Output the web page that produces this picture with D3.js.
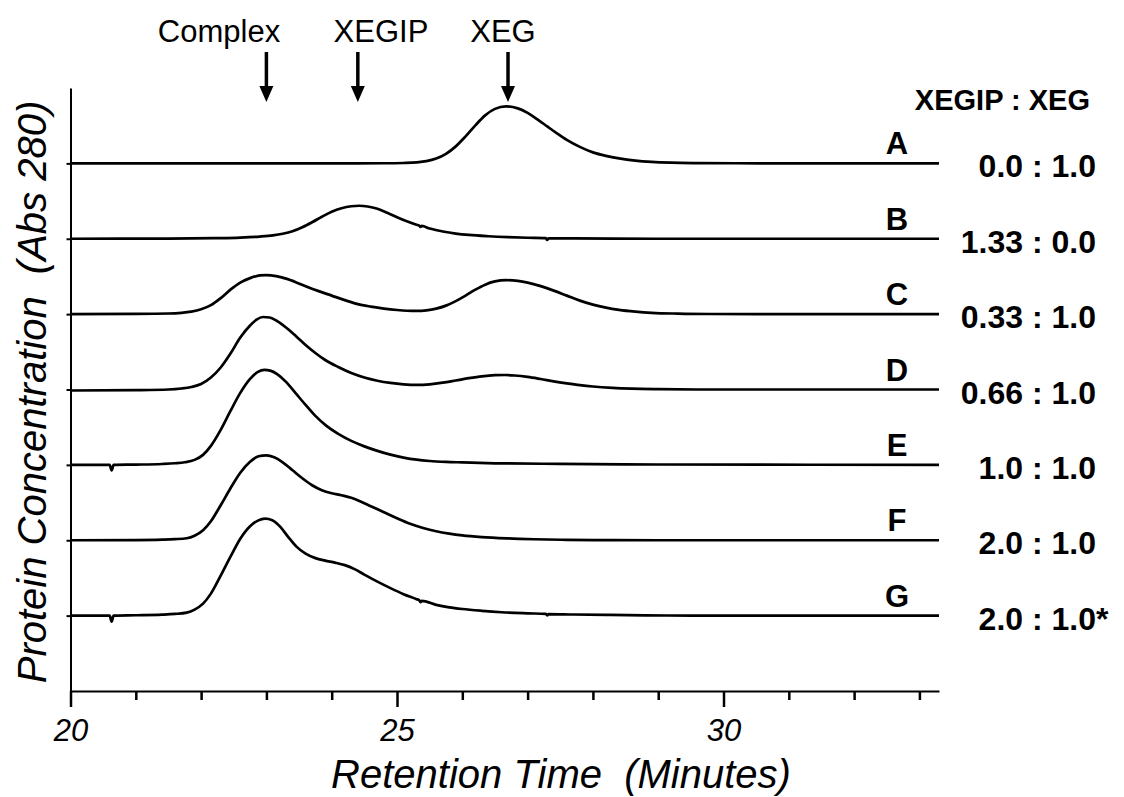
<!DOCTYPE html>
<html>
<head>
<meta charset="utf-8">
<script src="https://cdn.jsdelivr.net/npm/d3@7/dist/d3.min.js"></script>
<style>
  html, body { margin: 0; padding: 0; background: #fff; }
  svg { display: block; font-family: "Liberation Sans", Arial, Helvetica, sans-serif; }
  .title { white-space: pre; }
</style>
</head>
<body>
<svg id="chart" width="1124" height="797"></svg>
<script>
// Gel-filtration elution profiles, A280 signal (arbitrary units) vs retention time (min)
const traceIds = ["A", "B", "C", "D", "E", "F", "G"];
const ratioLabels = ["0.0 : 1.0", "1.33 : 0.0", "0.33 : 1.0", "0.66 : 1.0", "1.0 : 1.0", "2.0 : 1.0", "2.0 : 1.0"];
const ratioNotes = ["", "", "", "", "", "", "*"];
const ratioHeader = "XEGIP : XEG";

const peakNames = ["Complex", "XEGIP", "XEG"];
const peakTimes = [23.0, 24.4, 26.7];

const xMajorTicks = [20, 25, 30];
const xMinorTicks = [21, 22, 23, 24, 26, 27, 28, 29, 31, 32, 33];

// [retention time, signal above the trace's own baseline]
const traceA = [[20,0],[24,0],[24.8,0.1],[25.1,0.4],[25.3,1.0],[25.45,2.2],[25.6,4.8],[25.75,9.5],[25.9,17],[26.05,27],[26.2,38],[26.35,48],[26.5,54.5],[26.67,57],[26.85,55],[27.0,50.5],[27.15,44],[27.3,37],[27.45,30],[27.6,23.5],[27.8,16.5],[28.0,11],[28.2,7.5],[28.4,5],[28.65,2.8],[28.9,1.5],[29.2,0.7],[29.6,0.3],[30.2,0.1],[31,0],[33.3,0]];
const traceB = [[20,0],[21.5,0.1],[22.2,0.6],[22.6,1.2],[22.9,2.2],[23.1,3.4],[23.25,5],[23.4,7.5],[23.55,11.5],[23.7,16.5],[23.85,22],[24.0,27],[24.15,30.5],[24.3,32.5],[24.42,33],[24.55,32.3],[24.7,30],[24.85,26],[25.0,21.5],[25.15,17.5],[25.3,14],[25.34,13.2],[25.36,11.8],[25.38,12.8],[25.5,10.2],[25.7,7.3],[25.9,5.2],[26.1,3.8],[26.4,2.5],[26.7,1.6],[27.0,1.0],[27.28,0.6],[27.3,-1.2],[27.32,0.5],[27.7,0.3],[28.3,0.1],[29,0],[33.3,0]];
const traceC = [[20,0],[21.0,0.2],[21.5,0.6],[21.7,1.3],[21.85,2.5],[22.0,4.8],[22.15,9],[22.3,16],[22.45,24.5],[22.6,31.5],[22.75,36],[22.9,38.7],[23.0,39],[23.15,38],[23.3,35.5],[23.45,32],[23.6,28],[23.8,23],[24.0,18.5],[24.2,14],[24.4,10],[24.6,7.5],[24.8,5.5],[25.0,4.1],[25.15,3.4],[25.3,3.2],[25.45,3.8],[25.6,5.5],[25.75,8.5],[25.9,13],[26.05,18.5],[26.2,24.5],[26.35,29.5],[26.5,32.7],[26.67,34],[26.85,33.2],[27.0,31.5],[27.2,28],[27.4,23.5],[27.6,18.5],[27.8,13.5],[28.0,9.5],[28.2,6.5],[28.4,4.3],[28.65,2.5],[28.9,1.3],[29.3,0.5],[29.8,0.1],[30.5,0],[33.3,0]];
const traceD = [[20,-1],[21.0,-0.6],[21.5,0],[21.7,1],[21.85,2.5],[22.0,5.5],[22.15,12],[22.3,22],[22.45,36],[22.6,52],[22.75,64],[22.85,70],[22.95,72.5],[23.05,72],[23.15,69],[23.3,62],[23.45,53.5],[23.6,44.5],[23.75,36.5],[23.9,29.5],[24.1,22.5],[24.3,16.5],[24.5,12],[24.7,8.8],[24.9,6.6],[25.1,5.2],[25.3,4.6],[25.5,5.2],[25.7,6.8],[25.9,9],[26.1,11.3],[26.3,13.2],[26.5,14.3],[26.65,14.5],[26.8,14],[27.0,12.6],[27.2,10.5],[27.4,8.2],[27.6,6.2],[27.8,4.4],[28.0,3],[28.3,1.6],[28.6,0.8],[29.0,0.3],[29.6,0],[33.3,0]];
const traceE = [[20,0],[20.6,0],[20.63,-5.5],[20.66,0],[21.0,0.3],[21.4,0.9],[21.6,1.6],[21.75,2.6],[21.9,5],[22.03,10],[22.15,19],[22.3,35],[22.45,54],[22.6,72],[22.75,86],[22.87,93],[22.97,95],[23.07,94],[23.17,90.5],[23.3,83],[23.45,71.5],[23.6,60],[23.75,49],[23.92,39],[24.1,31],[24.3,24],[24.5,18.5],[24.7,14],[24.9,10.2],[25.1,7.3],[25.3,5.2],[25.5,3.9],[25.75,3],[26.0,2.5],[26.5,1.6],[27.5,1],[29,0.4],[33.3,0]];
const traceF = [[20,0],[21.0,0.2],[21.4,0.6],[21.6,1.1],[21.78,2],[21.9,4.5],[22.03,10],[22.15,19],[22.3,35],[22.45,52],[22.6,67.5],[22.75,78.5],[22.88,84],[23.0,85],[23.12,83],[23.25,78],[23.4,70],[23.55,62],[23.7,55],[23.85,50],[24.0,47],[24.15,45],[24.3,42.5],[24.45,38.5],[24.6,34],[24.8,28],[25.0,22],[25.2,16.5],[25.4,12.3],[25.6,9],[25.8,6.6],[26.0,4.8],[26.3,3.1],[26.7,1.8],[27.1,1],[27.6,0.4],[28.3,0.1],[29,0],[33.3,0]];
const traceG = [[20,0],[20.6,0],[20.63,-6],[20.66,0],[21.0,0.4],[21.4,1],[21.6,1.7],[21.78,3],[21.9,6],[22.03,12],[22.15,22],[22.3,40],[22.45,59],[22.6,77],[22.75,89.5],[22.87,95],[22.98,97],[23.09,95.5],[23.21,89],[23.33,79],[23.46,69],[23.6,62],[23.75,57.5],[23.9,55],[24.05,53],[24.2,50.5],[24.35,46.5],[24.5,41],[24.7,34],[24.9,27.5],[25.1,21.5],[25.3,16.5],[25.34,15.4],[25.36,13.5],[25.38,14.8],[25.6,10.8],[25.8,8.3],[26.0,6.6],[26.3,4.8],[26.6,3.4],[27.0,2.3],[27.28,1.7],[27.3,0.2],[27.32,1.6],[27.7,1.1],[28.2,0.7],[28.8,0.3],[29.5,0],[33.3,0]];

const traces = [traceA, traceB, traceC, traceD, traceE, traceF, traceG];

// vertical spacing between stacked traces, in signal units
const OFFSET = 75.4;

const svg = d3.select("#chart");

const x = d3.scaleLinear().domain([20, 33.3]).range([70.5, 939]);
const y = d3.scaleLinear().domain([-OFFSET, 7 * OFFSET]).range([691, 88]);

// offset of each trace: A on top, G at the bottom
const baseOf = i => (traceIds.length - 1 - i) * OFFSET;

// x axis: major ticks with labels, minor ticks without
const xAxisG = svg.append("g").attr("transform", `translate(0,${y(-OFFSET)})`);
xAxisG.call(d3.axisBottom(x).tickValues(xMajorTicks).tickSize(16).tickSizeOuter(0).tickPadding(12).tickFormat(d3.format("d")));
xAxisG.append("g").call(d3.axisBottom(x).tickValues(xMinorTicks).tickSize(9).tickSizeOuter(0).tickFormat(""))
  .select(".domain").remove();
xAxisG.selectAll("path.domain").attr("stroke", "#000").attr("stroke-width", 2);
xAxisG.selectAll(".tick line").attr("stroke", "#000").attr("stroke-width", 2.5);
xAxisG.selectAll(".tick text")
  .attr("fill", "#000")
  .style("font-size", "31px")
  .style("font-style", "italic")
  .style("font-family", "\"Liberation Sans\", Arial, sans-serif");

// y axis: no labels, a short tick at each trace offset
const yAxisG = svg.append("g").attr("transform", `translate(${x(20)},0)`);
yAxisG.call(d3.axisLeft(y).tickValues(traceIds.map((d, i) => baseOf(i))).tickSize(4).tickSizeOuter(0).tickFormat(""));
yAxisG.select(".domain").attr("stroke", "#000").attr("stroke-width", 2);
yAxisG.selectAll(".tick line").attr("stroke", "#000").attr("stroke-width", 2);

// traces
const line = d3.line().curve(d3.curveMonotoneX);
svg.append("g").selectAll("path")
  .data(traces)
  .join("path")
  .attr("fill", "none")
  .attr("stroke", "#000")
  .attr("stroke-width", 2.7)
  .attr("stroke-linejoin", "round")
  .attr("d", (pts, i) => line(pts.map(p => [x(p[0]), y(p[1] + baseOf(i))])));

// trace letters
svg.append("g").selectAll("text")
  .data(traceIds)
  .join("text")
  .attr("x", 897)
  .attr("y", (d, i) => y(baseOf(i)) - 9)
  .attr("text-anchor", "middle")
  .style("font-size", "31px")
  .style("font-weight", "bold")
  .text(d => d);

// molar ratio labels
svg.append("text")
  .attr("x", 1090).attr("y", 110)
  .attr("text-anchor", "end")
  .style("font-size", "29px")
  .style("font-weight", "bold")
  .text(ratioHeader);

const ratioG = svg.append("g");
ratioG.selectAll("text.ratio")
  .data(ratioLabels)
  .join("text")
  .attr("class", "ratio")
  .attr("x", 1096)
  .attr("y", (d, i) => y(baseOf(i)) + 14)
  .attr("text-anchor", "end")
  .style("font-size", "32px")
  .style("font-weight", "bold")
  .text(d => d);
ratioG.selectAll("text.note")
  .data(ratioNotes)
  .join("text")
  .attr("class", "note")
  .attr("x", 1096)
  .attr("y", (d, i) => y(baseOf(i)) + 14)
  .style("font-size", "32px")
  .style("font-weight", "bold")
  .text(d => d);

// peak markers: labels and downward arrows
const markers = svg.append("g");
const labelX = [219, 381, 503];
markers.selectAll("text")
  .data(peakNames)
  .join("text")
  .attr("x", (d, i) => labelX[i])
  .attr("y", 42)
  .attr("text-anchor", "middle")
  .style("font-size", "31px")
  .text(d => d);
markers.selectAll("line")
  .data(peakTimes)
  .join("line")
  .attr("x1", d => x(d)).attr("x2", d => x(d))
  .attr("y1", 52).attr("y2", 90)
  .attr("stroke", "#000")
  .attr("stroke-width", 3.5);
markers.selectAll("path")
  .data(peakTimes)
  .join("path")
  .attr("fill", "#000")
  .attr("d", d => `M${x(d) - 7},86 L${x(d) + 7},86 L${x(d)},102 Z`);

// axis titles (double spaces kept)
svg.append("text")
  .attr("class", "title")
  .attr("x", 561).attr("y", 788)
  .attr("text-anchor", "middle")
  .style("font-size", "40px")
  .style("font-style", "italic")
  .text("Retention Time  (Minutes)");

svg.append("text")
  .attr("class", "title")
  .attr("transform", "translate(46,392) rotate(-90)")
  .attr("text-anchor", "middle")
  .style("font-size", "40px")
  .style("font-style", "italic")
  .text("Protein Concentration  (Abs 280)");
</script>
</body>
</html>
